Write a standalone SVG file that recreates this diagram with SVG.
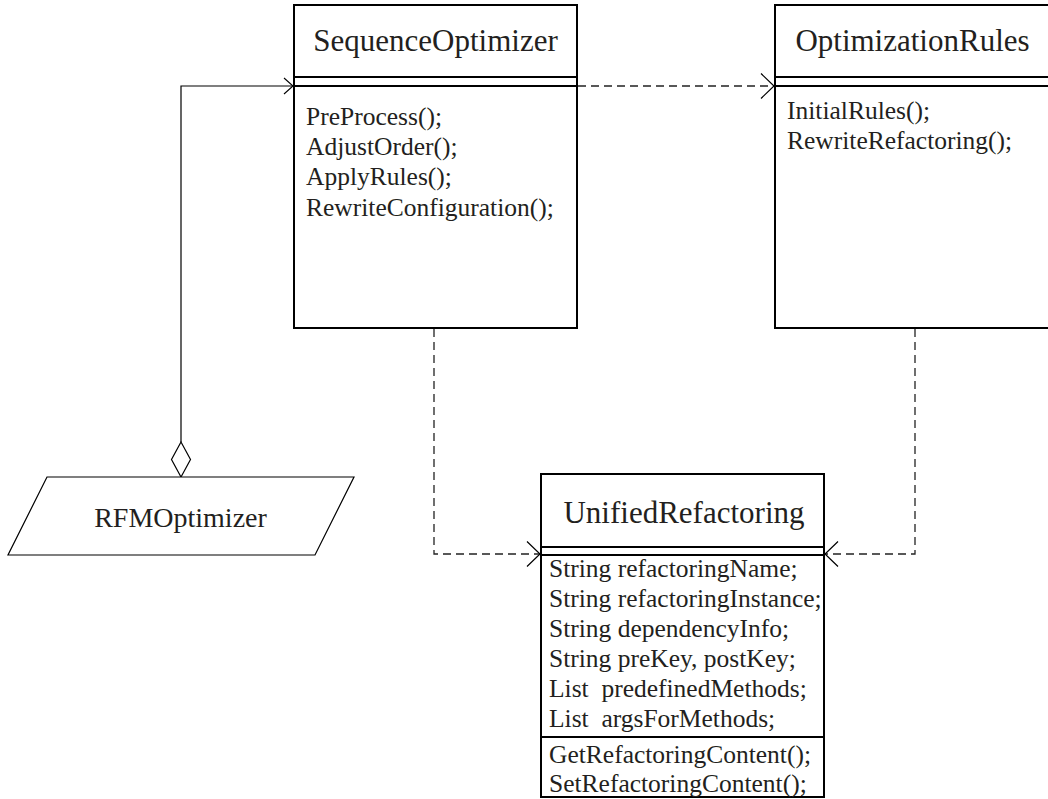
<svg xmlns="http://www.w3.org/2000/svg" width="1048" height="799" viewBox="0 0 1048 799">
  <style>
    .box { fill: #ffffff; stroke: #000000; stroke-width: 2; }
    .sep { stroke: #000000; stroke-width: 2; fill: none; }
    .title { font-family: 'Liberation Serif', 'Times New Roman', serif; font-size: 31px; fill: #231f20; text-anchor: middle; }
    .mem { font-family: 'Liberation Serif', 'Times New Roman', serif; font-size: 25.5px; fill: #231f20; }
    .solid { stroke: #000000; stroke-width: 1.2; fill: none; }
    .dash { stroke: #222222; stroke-width: 1.3; fill: none; stroke-dasharray: 8 5; }
    .shape { fill: #ffffff; stroke: #000000; stroke-width: 1.2; }
  </style>
  <defs>
    <marker id="openBig" viewBox="-15 -14 17 28" markerWidth="17" markerHeight="28" refX="0" refY="0" orient="auto" markerUnits="userSpaceOnUse">
      <path d="M-13,-12.5 L0,0 L-13,12.5" fill="none" stroke="#000000" stroke-width="1.2"/>
    </marker>
    <marker id="openSmall" viewBox="-12 -10 14 20" markerWidth="14" markerHeight="20" refX="0" refY="0" orient="auto" markerUnits="userSpaceOnUse">
      <path d="M-9,-8 L0,0 L-9,8" fill="none" stroke="#000000" stroke-width="1.1"/>
    </marker>
  </defs>

  <g id="connectors">
    <path class="solid" d="M181,442 V86 H293" marker-end="url(#openSmall)"/>
    <polygon class="shape" points="181,442 190.5,459.5 181,477 171.5,459.5"/>
    <path class="dash" d="M578,86 H774" marker-end="url(#openBig)"/>
    <path class="dash" d="M434,329 V554 H540" marker-end="url(#openBig)"/>
    <path class="dash" d="M915,329 V554 H825" marker-end="url(#openBig)"/>
  </g>

  <g id="SequenceOptimizer">
    <rect class="box" x="294" y="5" width="283" height="323"/>
    <line class="sep" x1="294" y1="77" x2="577" y2="77"/>
    <line class="sep" x1="294" y1="86" x2="577" y2="86"/>
    <text class="title" x="435.5" y="51">SequenceOptimizer</text>
    <text class="mem" x="306" y="125">PreProcess();</text>
    <text class="mem" x="306" y="155">AdjustOrder();</text>
    <text class="mem" x="306" y="185">ApplyRules();</text>
    <text class="mem" x="306" y="215.5">RewriteConfiguration();</text>
  </g>

  <g id="OptimizationRules">
    <rect class="box" x="775" y="5" width="276" height="323"/>
    <line class="sep" x1="775" y1="77" x2="1050" y2="77"/>
    <line class="sep" x1="775" y1="86" x2="1050" y2="86"/>
    <text class="title" x="912.5" y="51">OptimizationRules</text>
    <text class="mem" x="787" y="119">InitialRules();</text>
    <text class="mem" x="787" y="149">RewriteRefactoring();</text>
  </g>

  <g id="RFMOptimizer">
    <polygon class="shape" points="47,477 354,477 315,555 8,555"/>
    <text class="title" style="font-size:28px" x="180.5" y="527">RFMOptimizer</text>
  </g>

  <g id="UnifiedRefactoring">
    <rect class="box" x="541" y="474" width="283" height="323"/>
    <line class="sep" x1="541" y1="547" x2="824" y2="547"/>
    <line class="sep" x1="541" y1="555" x2="824" y2="555"/>
    <line class="sep" x1="541" y1="737" x2="824" y2="737"/>
    <text class="title" x="684" y="523">UnifiedRefactoring</text>
    <text class="mem" x="549" y="577">String refactoringName;</text>
    <text class="mem" x="549" y="607">String refactoringInstance;</text>
    <text class="mem" x="549" y="637">String dependencyInfo;</text>
    <text class="mem" x="549" y="667">String preKey, postKey;</text>
    <text class="mem" x="549" y="697" xml:space="preserve">List  predefinedMethods;</text>
    <text class="mem" x="549" y="727" xml:space="preserve">List  argsForMethods;</text>
    <text class="mem" x="549" y="763">GetRefactoringContent();</text>
    <text class="mem" x="549" y="792">SetRefactoringContent();</text>
  </g>
</svg>
